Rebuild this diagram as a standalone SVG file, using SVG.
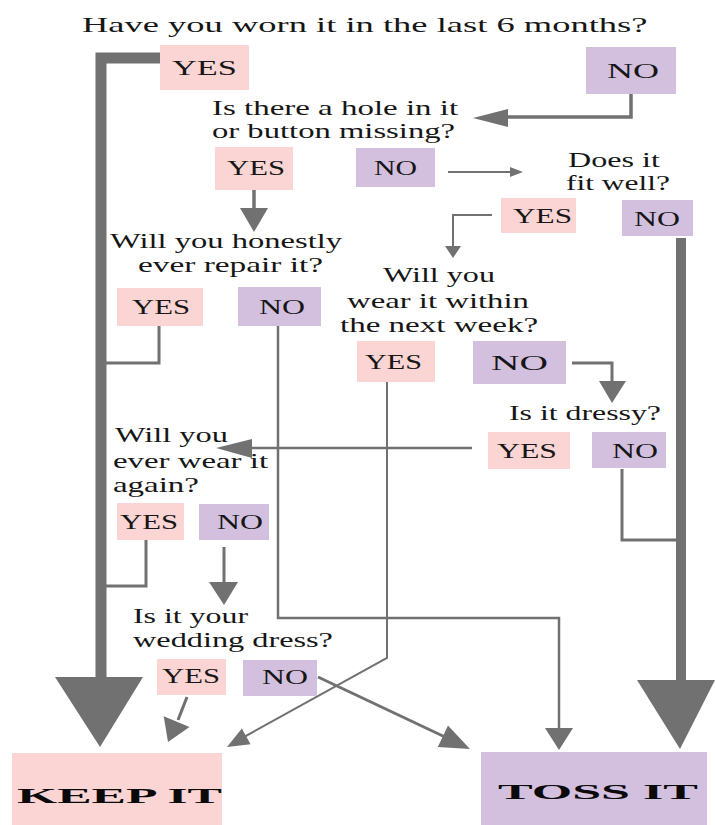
<svg xmlns="http://www.w3.org/2000/svg" width="715" height="825" viewBox="0 0 715 825">
<style>
text{font-family:"Liberation Serif","Times New Roman",serif;fill:#161616;font-size:22px}
.yes{fill:#fbd4d4}
.no{fill:#d3c0de}
.big{font-weight:bold;fill:#0a0a0a}
.ln{fill:none;stroke:#717171;stroke-linejoin:miter}
.hd{fill:#717171}
</style>
<rect width="715" height="825" fill="#ffffff"/>
<g id="connectors">
<polyline class="ln" points="160,58 101,58 101,682" stroke-width="11"/>
<polygon class="hd" points="55,677 143,677 100,747"/>
<line class="ln" x1="681" y1="238" x2="681" y2="684" stroke-width="10"/>
<polygon class="hd" points="637,680 715,680 680,749"/>
<polyline class="ln" points="631,94 631,117 505,117" stroke-width="3.5"/>
<polygon class="hd" points="473,118 508,109 508,127"/>
<line class="ln" x1="254" y1="190" x2="254" y2="210" stroke-width="3.5"/>
<polygon class="hd" points="240,208 268,208 254,232"/>
<line class="ln" x1="448" y1="172" x2="512" y2="172" stroke-width="2"/>
<polygon class="hd" points="510,167 510,177 523,172"/>
<polyline class="ln" points="492,215 453,215 453,248" stroke-width="2"/>
<polygon class="hd" points="445,246 461,246 453,258"/>
<polyline class="ln" points="159,326 159,363 106,363" stroke-width="3"/>
<polyline class="ln" points="278,326 278,618 559,618 559,730" stroke-width="2.5"/>
<polygon class="hd" points="545,728 573,728 559,750"/>
<polyline class="ln" points="387,382 387,658 244,737" stroke-width="2"/>
<polygon class="hd" points="227,747 250.6,744.2 241.8,728.4"/>
<polyline class="ln" points="572,363 612,363 612,383" stroke-width="3"/>
<polygon class="hd" points="599,381 626,381 612,403"/>
<line class="ln" x1="472" y1="448" x2="250" y2="448" stroke-width="2.5"/>
<polygon class="hd" points="216,448 252,439 252,458"/>
<polyline class="ln" points="622,469 622,540 677,540" stroke-width="3"/>
<polyline class="ln" points="146,540 146,586 106,586" stroke-width="3"/>
<line class="ln" x1="224" y1="547" x2="224" y2="584" stroke-width="3"/>
<polygon class="hd" points="209,582 238,582 224,605"/>
<line class="ln" x1="187" y1="697" x2="178" y2="720" stroke-width="3"/>
<polygon class="hd" points="168,742 189.5,727.1 163.7,716.3"/>
<line class="ln" x1="318" y1="677" x2="445" y2="737" stroke-width="3"/>
<polygon class="hd" points="470,749 437.8,747 448,725.4"/>
</g>
<g id="title">
<text transform="translate(82 32) scale(1.45 1)" font-size="23" textLength="390" lengthAdjust="spacingAndGlyphs">Have you worn it in the last 6 months?</text>
</g>
<g id="yes1"><rect class="yes" x="160" y="45" width="89" height="45"/><text transform="translate(172 75) scale(1.45 1)" textLength="44.8" lengthAdjust="spacingAndGlyphs">YES</text></g>
<g id="no1"><rect class="no" x="586" y="47" width="90" height="47"/><text transform="translate(607 78) scale(1.45 1)" textLength="35.9" lengthAdjust="spacingAndGlyphs">NO</text></g>
<g id="q-hole">
<text transform="translate(212 115) scale(1.45 1)" textLength="169.7" lengthAdjust="spacingAndGlyphs">Is there a hole in it</text>
<text transform="translate(212 138) scale(1.45 1)" textLength="167.6" lengthAdjust="spacingAndGlyphs">or button missing?</text>
</g>
<g id="yes2"><rect class="yes" x="215" y="147" width="78" height="43"/><text transform="translate(227 175) scale(1.45 1)" textLength="40" lengthAdjust="spacingAndGlyphs">YES</text></g>
<g id="no2"><rect class="no" x="356" y="148" width="79" height="39"/><text transform="translate(374 175) scale(1.45 1)" textLength="29.7" lengthAdjust="spacingAndGlyphs">NO</text></g>
<g id="q-fit">
<text transform="translate(568 167) scale(1.45 1)" textLength="63.4" lengthAdjust="spacingAndGlyphs">Does it</text>
<text transform="translate(566 190) scale(1.45 1)" textLength="71.7" lengthAdjust="spacingAndGlyphs">fit well?</text>
</g>
<g id="yes3"><rect class="yes" x="501" y="198" width="75" height="35"/><text transform="translate(513 223) scale(1.45 1)" textLength="40.7" lengthAdjust="spacingAndGlyphs">YES</text></g>
<g id="no3"><rect class="no" x="622" y="200" width="71" height="36"/><text transform="translate(634 226) scale(1.45 1)" textLength="31.7" lengthAdjust="spacingAndGlyphs">NO</text></g>
<g id="q-repair">
<text transform="translate(110 248) scale(1.45 1)" textLength="160" lengthAdjust="spacingAndGlyphs">Will you honestly</text>
<text transform="translate(138 272) scale(1.45 1)" textLength="127.6" lengthAdjust="spacingAndGlyphs">ever repair it?</text>
</g>
<g id="yes4"><rect class="yes" x="117" y="288" width="86" height="38"/><text transform="translate(132 314) scale(1.45 1)" textLength="40" lengthAdjust="spacingAndGlyphs">YES</text></g>
<g id="no4"><rect class="no" x="238" y="287" width="83" height="39"/><text transform="translate(259 314) scale(1.45 1)" textLength="31.7" lengthAdjust="spacingAndGlyphs">NO</text></g>
<g id="q-week">
<text transform="translate(383 282) scale(1.45 1)" textLength="77.2" lengthAdjust="spacingAndGlyphs">Will you</text>
<text transform="translate(347 308) scale(1.45 1)" textLength="125.5" lengthAdjust="spacingAndGlyphs">wear it within</text>
<text transform="translate(340 332) scale(1.45 1)" textLength="136.6" lengthAdjust="spacingAndGlyphs">the next week?</text>
</g>
<g id="yes6"><rect class="yes" x="357" y="341" width="78" height="41"/><text transform="translate(365 369) scale(1.45 1)" textLength="39.3" lengthAdjust="spacingAndGlyphs">YES</text></g>
<g id="no6"><rect class="no" x="473" y="341" width="93" height="43"/><text transform="translate(491 370) scale(1.45 1)" font-size="25" textLength="39.3" lengthAdjust="spacingAndGlyphs">NO</text></g>
<g id="q-dressy">
<text transform="translate(509 420) scale(1.45 1)" textLength="104.8" lengthAdjust="spacingAndGlyphs">Is it dressy?</text>
</g>
<g id="yes7"><rect class="yes" x="488" y="432" width="82" height="37"/><text transform="translate(497 458) scale(1.45 1)" textLength="41.4" lengthAdjust="spacingAndGlyphs">YES</text></g>
<g id="no7"><rect class="no" x="592" y="432" width="74" height="36"/><text transform="translate(612 458) scale(1.45 1)" textLength="31.7" lengthAdjust="spacingAndGlyphs">NO</text></g>
<g id="q-again">
<text transform="translate(115 442) scale(1.45 1)" textLength="77.9" lengthAdjust="spacingAndGlyphs">Will you</text>
<text transform="translate(113 468) scale(1.45 1)" textLength="106.9" lengthAdjust="spacingAndGlyphs">ever wear it</text>
<text transform="translate(113 492) scale(1.45 1)" textLength="59.3" lengthAdjust="spacingAndGlyphs">again?</text>
</g>
<g id="yes5"><rect class="yes" x="117" y="503" width="67" height="37"/><text transform="translate(120 529) scale(1.45 1)" textLength="40" lengthAdjust="spacingAndGlyphs">YES</text></g>
<g id="no5"><rect class="no" x="199" y="504" width="70" height="36"/><text transform="translate(217 529) scale(1.45 1)" textLength="31.7" lengthAdjust="spacingAndGlyphs">NO</text></g>
<g id="q-wedding">
<text transform="translate(133 623) scale(1.45 1)" textLength="79.3" lengthAdjust="spacingAndGlyphs">Is it your</text>
<text transform="translate(133 647) scale(1.45 1)" textLength="137.9" lengthAdjust="spacingAndGlyphs">wedding dress?</text>
</g>
<g id="yes8"><rect class="yes" x="157" y="659" width="69" height="36"/><text transform="translate(162 683) scale(1.45 1)" textLength="40" lengthAdjust="spacingAndGlyphs">YES</text></g>
<g id="no8"><rect class="no" x="243" y="660" width="74" height="36"/><text transform="translate(262 684) scale(1.45 1)" textLength="31.7" lengthAdjust="spacingAndGlyphs">NO</text></g>
<g id="keep"><rect class="yes" x="12" y="753" width="210" height="72"/><text class="big" transform="translate(17 803) scale(1.45 1)" font-size="34" textLength="141.4" lengthAdjust="spacingAndGlyphs">KEEP IT</text></g>
<g id="toss"><rect class="no" x="481" y="752" width="226" height="73"/><text class="big" transform="translate(498 799) scale(1.45 1)" font-size="31" textLength="137.9" lengthAdjust="spacingAndGlyphs">TOSS IT</text></g>
</svg>
